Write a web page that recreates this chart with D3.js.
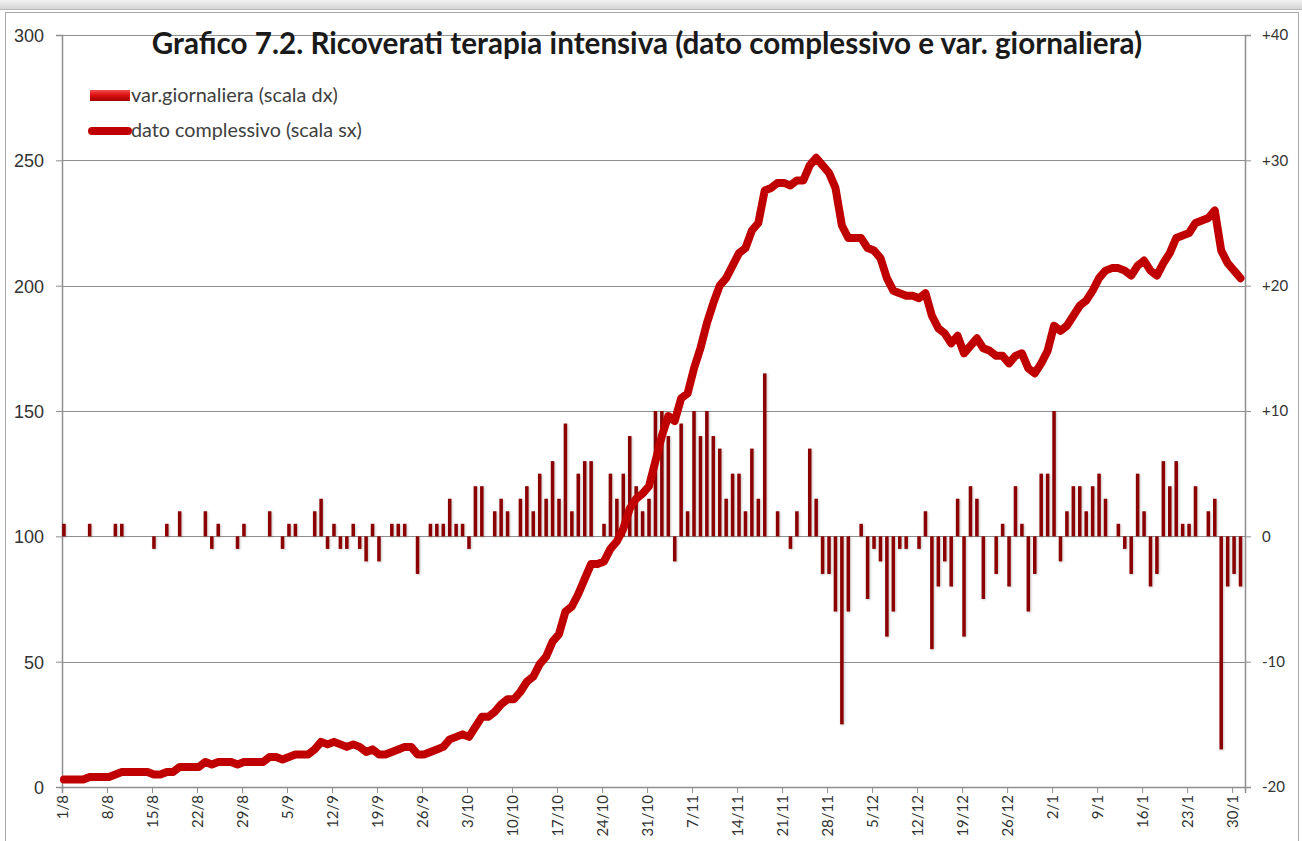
<!DOCTYPE html>
<html>
<head>
<meta charset="utf-8">
<script src="https://cdn.jsdelivr.net/npm/d3@7"></script>
<style>
  body { margin: 0; background: #fff; }
  svg { display: block; }
</style>
</head>
<body>
<svg id="chart" width="1302" height="841"></svg>
<script>
// ---------------- DATA ----------------
const titleText = "Grafico 7.2. Ricoverati terapia intensiva (dato complessivo e var. giornaliera)";
const legendBarLabel = "var.giornaliera (scala dx)";
const legendLineLabel = "dato complessivo (scala sx)";

// x-axis tick labels (one every 7 days, starting 1/8)
const tickLabels = ["1/8","8/8","15/8","22/8","29/8","5/9","12/9","19/9","26/9","3/10","10/10","17/10","24/10","31/10","7/11","14/11","21/11","28/11","5/12","12/12","19/12","26/12","2/1","9/1","16/1","23/1","30/1"];
const tickDays = [0,7,14,21,28,35,42,49,56,63,70,77,84,91,98,105,112,119,126,133,140,147,154,161,168,175,182];

// left axis (dato complessivo) and right axis (var. giornaliera)
const leftTicks = [0, 50, 100, 150, 200, 250, 300];
const rightTicks = [-20, -10, 0, 10, 20, 30, 40];
const rightTickLabels = ["-20", "-10", "0", "+10", "+20", "+30", "+40"];

// daily variation, one value per day from 1/8 to 31/1
const varGiornaliera = [
  1,0,0,0,1,0,0,0,1,1,
  0,0,0,0,-1,0,1,0,2,0,
  0,0,2,-1,1,0,0,-1,1,0,
  0,0,2,0,-1,1,1,0,0,2,
  3,-1,1,-1,-1,1,-1,-2,1,-2,
  0,1,1,1,0,-3,0,1,1,1,
  3,1,1,-1,4,4,0,2,3,2,
  0,3,4,2,5,3,6,3,9,2,
  5,6,6,0,1,5,3,5,8,4,
  2,3,10,10,8,-2,9,2,10,8,
  10,8,7,3,5,5,2,7,3,13,
  0,2,0,-1,2,0,7,3,-3,-3,
  -6,-15,-6,0,1,-5,-1,-2,-8,-6,
  -1,-1,0,-1,2,-9,-4,-2,-4,3,
  -8,4,3,-5,0,-3,1,-4,4,1,
  -6,-3,5,5,10,-2,2,4,4,2,
  4,5,3,0,1,-1,-3,5,2,-4,
  -3,6,4,6,1,1,4,0,2,3,
  -17,-4,-3,-4
];

// total ICU patients, one value per day from 1/8 to 31/1
const datoComplessivo = [
  3,3,3,3,4,4,4,4,5,6,
  6,6,6,6,5,5,6,6,8,8,
  8,8,10,9,10,10,10,9,10,10,
  10,10,12,12,11,12,13,13,13,15,
  18,17,18,17,16,17,16,14,15,13,
  13,14,15,16,16,13,13,14,15,16,
  19,20,21,20,24,28,28,30,33,35,
  35,38,42,44,49,52,58,61,70,72,
  77,83,89,89,90,95,98,103,111,115,
  117,120,130,140,148,146,155,157,167,175,
  185,193,200,203,208,213,215,222,225,238,
  239,241,241,240,242,242,248,251,248,245,
  239,224,219,219,219,215,214,211,203,198,
  197,196,196,195,197,188,183,181,177,180,
  173,176,179,175,174,172,172,169,172,173,
  167,165,169,174,184,182,184,188,192,194,
  198,203,206,207,207,206,204,208,210,206,
  204,209,213,219,220,221,225,226,227,230,
  214,209,206,203
];

// ---------------- LAYOUT ----------------
const W = 1302, H = 841;
const plot = { left: 62, right: 1245, top: 35, bottom: 787 };
const markOffset = 0.3; // marks sit slightly right of the day tick

const svg = d3.select("#chart");

const x = d3.scaleLinear().domain([0, 184]).range([plot.left, plot.right]);
const yL = d3.scaleLinear().domain([0, 300]).range([plot.bottom, plot.top]);
const yR = d3.scaleLinear().domain([-20, 40]).range([plot.bottom, plot.top]);

// defs
const defs = svg.append("defs");
const grad = defs.append("linearGradient").attr("id", "legendBarGrad")
  .attr("x1", 0).attr("y1", 0).attr("x2", 0).attr("y2", 1);
grad.append("stop").attr("offset", "0%").attr("stop-color", "#f05050");
grad.append("stop").attr("offset", "45%").attr("stop-color", "#e01010");
grad.append("stop").attr("offset", "100%").attr("stop-color", "#a00000");
const topGrad = defs.append("linearGradient").attr("id", "topGrad")
  .attr("x1", 0).attr("y1", 0).attr("x2", 0).attr("y2", 1);
topGrad.append("stop").attr("offset", "0%").attr("stop-color", "#f2f2f2");
topGrad.append("stop").attr("offset", "100%").attr("stop-color", "#d4d4d4");
const shadow = defs.append("filter").attr("id", "barShadow")
  .attr("x", "-50%").attr("y", "-10%").attr("width", "200%").attr("height", "120%");
shadow.append("feDropShadow").attr("dx", 0.8).attr("dy", 0.8)
  .attr("stdDeviation", 0.8).attr("flood-color", "#000").attr("flood-opacity", 0.25);

// background & frame
svg.append("rect").attr("x", 0).attr("y", 0).attr("width", W).attr("height", H).attr("fill", "#fff");
svg.append("rect").attr("x", 0).attr("y", 0).attr("width", W).attr("height", 9).attr("fill", "url(#topGrad)");
svg.append("line").attr("x1", 0).attr("x2", W).attr("y1", 9.5).attr("y2", 9.5).attr("stroke", "#b8b8b8");
svg.append("rect").attr("x", 5.5).attr("y", 12.5).attr("width", 1293).attr("height", 840)
  .attr("fill", "none").attr("stroke", "#a8a8a8").attr("stroke-width", 1);

// gridlines
svg.append("g").selectAll("line").data(leftTicks.filter(t => t > 0)).join("line")
  .attr("x1", plot.left).attr("x2", plot.right)
  .attr("y1", d => Math.round(yL(d)) + 0.5).attr("y2", d => Math.round(yL(d)) + 0.5)
  .attr("stroke", "#8e8e8e").attr("stroke-width", 1);

// left axis
const gL = svg.append("g").attr("transform", `translate(${plot.left},0)`)
  .call(d3.axisLeft(yL).tickValues(leftTicks).tickSize(6).tickPadding(12).tickFormat(d3.format("d")));
gL.select(".domain").attr("stroke", "#8e8e8e").attr("stroke-width", 1.5);
gL.selectAll(".tick line").attr("stroke", "#8e8e8e");
gL.selectAll(".tick text").attr("font-family", "'Liberation Sans', Arial, sans-serif")
  .attr("font-size", 18).attr("fill", "#333").attr("dy", "0.36em");

// right axis
const gR = svg.append("g").attr("transform", `translate(${plot.right},0)`)
  .call(d3.axisRight(yR).tickValues(rightTicks).tickSize(6).tickPadding(11)
    .tickFormat((d, i) => rightTickLabels[i]));
gR.select(".domain").attr("stroke", "#8e8e8e").attr("stroke-width", 1.5);
gR.selectAll(".tick line").attr("stroke", "#8e8e8e");
gR.selectAll(".tick text").attr("font-family", "Lato, 'Liberation Sans', sans-serif")
  .attr("font-size", 15).attr("fill", "#333").attr("dy", "0.33em");

// x axis
const gX = svg.append("g").attr("transform", `translate(0,${plot.bottom})`)
  .call(d3.axisBottom(x).tickValues(tickDays).tickSize(6).tickFormat((d, i) => tickLabels[i]));
gX.select(".domain").attr("stroke", "#8e8e8e").attr("stroke-width", 1.5);
gX.selectAll(".tick line").attr("stroke", "#8e8e8e");
gX.selectAll(".tick text")
  .attr("font-family", "Lato, 'Liberation Sans', sans-serif")
  .attr("font-size", 15).attr("fill", "#333")
  .attr("transform", "rotate(-90)")
  .attr("text-anchor", "end")
  .attr("x", -8).attr("y", 0).attr("dy", "0.35em");

// bars (right scale)
const barW = 3.5;
const barData = varGiornaliera.map((v, i) => ({ day: i, v })).filter(d => d.v !== 0);
svg.append("g").attr("filter", "url(#barShadow)").selectAll("rect").data(barData).join("rect")
  .attr("x", d => x(d.day + markOffset) - barW / 2)
  .attr("width", barW)
  .attr("y", d => yR(Math.max(0, d.v)))
  .attr("height", d => Math.abs(yR(d.v) - yR(0)))
  .attr("fill", "#8b0000");

// line (left scale)
const lineGen = d3.line()
  .x((d, i) => x(i + markOffset))
  .y(d => yL(d));
svg.append("path").datum(datoComplessivo)
  .attr("d", lineGen)
  .attr("fill", "none")
  .attr("stroke", "#c00000")
  .attr("stroke-width", 8)
  .attr("stroke-linejoin", "round")
  .attr("stroke-linecap", "round");

// helper: fit text to a target width
function fitWidth(sel, baseSize, target) {
  const w = sel.node().getComputedTextLength();
  if (w > 0) sel.attr("font-size", baseSize * target / w);
}

// title
const title = svg.append("text")
  .attr("x", 647).attr("y", 54)
  .attr("text-anchor", "middle")
  .attr("font-family", "Lato, 'Liberation Sans', sans-serif")
  .attr("font-weight", "bold")
  .attr("font-size", 25)
  .attr("fill", "#1a1a1a")
  .text(titleText);
fitWidth(title, 25, 991);

// legend
svg.append("rect").attr("x", 90).attr("y", 90).attr("width", 40).attr("height", 11)
  .attr("fill", "url(#legendBarGrad)");
const lt1 = svg.append("text").attr("x", 131).attr("y", 102)
  .attr("font-family", "Lato, 'Liberation Sans', sans-serif").attr("font-size", 16)
  .attr("fill", "#404040").text(legendBarLabel);
fitWidth(lt1, 16, 207);
svg.append("line").attr("x1", 92).attr("x2", 128).attr("y1", 131).attr("y2", 131)
  .attr("stroke", "#c00000").attr("stroke-width", 8).attr("stroke-linecap", "round");
const lt2 = svg.append("text").attr("x", 131).attr("y", 137)
  .attr("font-family", "Lato, 'Liberation Sans', sans-serif").attr("font-size", 16)
  .attr("fill", "#404040").text(legendLineLabel);
fitWidth(lt2, 16, 231);
</script>
</body>
</html>
